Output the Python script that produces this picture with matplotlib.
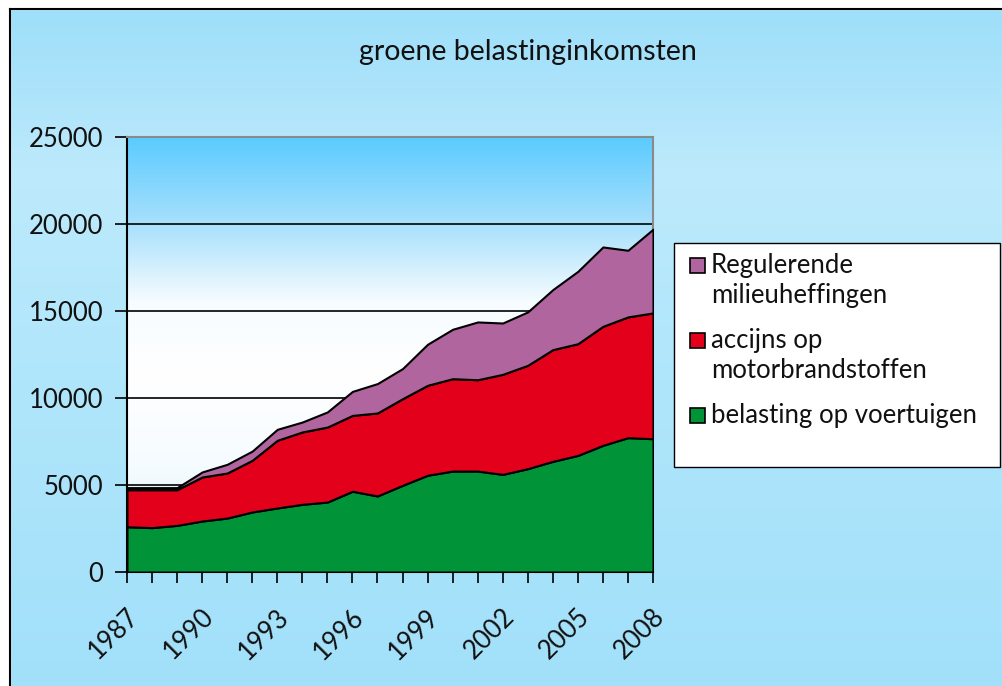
import numpy as np
import matplotlib
matplotlib.use("Agg")
import matplotlib.pyplot as plt
from matplotlib.colors import LinearSegmentedColormap
from matplotlib.patches import Rectangle
from matplotlib.transforms import ScaledTranslation

plt.rcParams['font.family'] = ['Lato', 'DejaVu Sans']

years = list(range(1987, 2009))
tick_years = [1987, 1990, 1993, 1996, 1999, 2002, 2005, 2008]

belasting_voertuigen = [2600, 2550, 2680, 2930, 3100, 3450, 3680, 3890, 4020, 4640, 4370,
                        4980, 5560, 5800, 5800, 5610, 5940, 6360, 6700, 7280, 7720, 7660]
accijns_motorbrandstoffen = [2130, 2180, 2050, 2530, 2590, 2970, 3890, 4160, 4310, 4360, 4770,
                             4980, 5170, 5310, 5250, 5750, 5940, 6420, 6420, 6840, 6940, 7230]
regulerende_milieuheffingen = [120, 120, 120, 290, 500, 530, 630, 570, 870, 1380, 1690,
                               1730, 2360, 2840, 3320, 2950, 3070, 3450, 4160, 4560, 3830, 4810]

labels = ['belasting op voertuigen', 'accijns op\nmotorbrandstoffen',
          'Regulerende\nmilieuheffingen']
colors = ['#009338', '#E2001A', '#B0659F']

W, H = 1002, 686
fig = plt.figure(figsize=(W / 100, H / 100), dpi=100)

def fx(px):
    return px / W

def fy(py):
    return 1 - py / H

# figure background gradient
bg = fig.add_axes([0, 0, 1, 1], zorder=-10)
bg_cmap = LinearSegmentedColormap.from_list(
    'bg', [(0.0, '#a2e0fa'), (0.45, '#b0e6fb'), (0.75, '#bdeafc'), (0.92, '#a6e1fa'), (1.0, '#9edff9')])
grad = np.linspace(0, 1, 256).reshape(-1, 1)
bg.imshow(grad, aspect='auto', cmap=bg_cmap, origin='lower', extent=[0, 1, 0, 1])
bg.set_xlim(0, 1)
bg.set_ylim(0, 1)
bg.axis('off')
bx, by = fx(9.5), fy(8.5)
bg.fill_between([0, 1], by, 1, color='white', zorder=2)
bg.fill_between([0, bx], 0, 1, color='white', zorder=2)
bg.plot([bx, bx], [0, by], color='black', lw=1.5, zorder=3)
bg.plot([bx, 1], [by, by], color='black', lw=1.5, zorder=3)

ax = fig.add_axes([fx(127), fy(572), (653 - 127) / W, (572 - 137) / H])

pa_cmap = LinearSegmentedColormap.from_list(
    'pa', [(0.0, '#a6dbf6'), (0.22, '#f4fbff'), (0.45, '#ffffff'), (0.62, '#f6fcff'),
           (0.8, '#a8e0fc'), (1.0, '#5acbff')])
ax.imshow(grad, aspect='auto', cmap=pa_cmap, origin='lower',
          extent=[years[0], years[-1], 0, 25000], zorder=0)

ax.stackplot(years, belasting_voertuigen, accijns_motorbrandstoffen, regulerende_milieuheffingen,
             colors=colors, edgecolor='black', linewidth=1.5, zorder=3)

ax.set_xlim(years[0], years[-1])
ax.set_ylim(0, 25000)
ax.set_yticks([0, 5000, 10000, 15000, 20000, 25000])
ax.yaxis.grid(True, color='black', linewidth=1.2)
for gl in ax.get_ygridlines():
    gl.set_zorder(1)
ax.set_xticks(years, minor=True)
ax.set_xticks(tick_years)
ax.set_xticklabels([str(y) for y in tick_years], rotation=45, ha='right', va='top',
                   rotation_mode='anchor')
ax.tick_params(axis='x', which='both', direction='out', length=8, width=1.2, color='black',
               labelsize=18.5, pad=15, labelcolor='#111111')
ax.tick_params(axis='y', direction='out', length=9, width=1.2, labelsize=18.5, pad=8,
               labelcolor='#111111')
off = ScaledTranslation(-1 / 100, 0, fig.dpi_scale_trans)
for lab in ax.get_xticklabels():
    lab.set_transform(lab.get_transform() + off)
for s in ['top', 'right']:
    ax.spines[s].set_color('#8a8a8a')
    ax.spines[s].set_linewidth(1.5)
for s in ['left', 'bottom']:
    ax.spines[s].set_color('black')
    ax.spines[s].set_linewidth(1.5)

fig.text(fx(528), fy(52), 'groene belastinginkomsten', ha='center', va='center',
         fontsize=20.5, color='#111111')

# legend box drawn manually (entries in reversed order: top series first)
fig.patches.append(Rectangle((fx(674), fy(467)), (1000 - 674) / W, (467 - 243) / H,
                             transform=fig.transFigure, facecolor='white', edgecolor='black',
                             linewidth=1.0, zorder=5))
first_baselines = [273, 348, 423]
line_gap = 30
for (lab, col), base in zip(list(zip(labels, colors))[::-1], first_baselines):
    fig.patches.append(Rectangle((fx(690), fy(base)), 15 / W, 15 / H,
                                 transform=fig.transFigure, facecolor=col,
                                 edgecolor='black', linewidth=1.2, zorder=6))
    for k, line in enumerate(lab.split('\n')):
        fig.text(fx(711), fy(base + k * line_gap), line, ha='left', va='baseline',
                 fontsize=18.5, color='#111111', zorder=7)

fig.savefig('out.png', dpi=100)
